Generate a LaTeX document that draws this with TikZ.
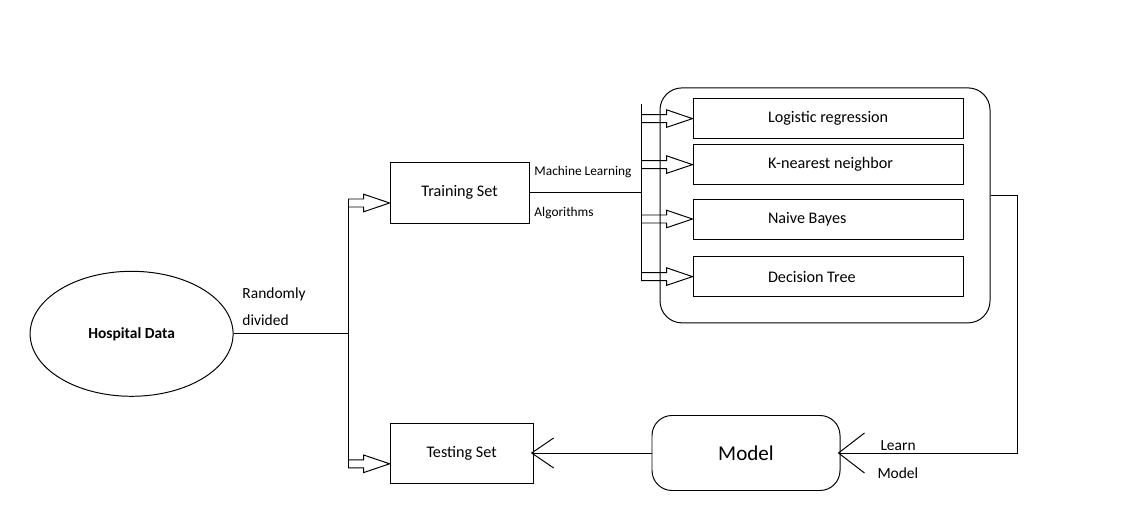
\documentclass[tikz,border=0pt]{standalone}
\usepackage{fontspec}
\setmainfont{Carlito}
\usetikzlibrary{shapes.geometric,arrows.meta,calc,positioning}
\tikzstyle{every picture}=[line width=0.7pt,%
	>={Straight Barb[length=0.55cm,width=0.75cm]}]
\tikzstyle{block}=[draw, minimum width=3.5cm, minimum height=1.5cm, font=\fontsize{11.5}{14}\selectfont]
\tikzstyle{algo}=[draw, minimum height=1cm, text width=6.55cm, inner xsep=0.1cm, align=flush left,%
	font=\fontsize{11.5}{14}\selectfont, execute at begin node={\hspace*{1.775cm}}]
\tikzstyle{lbl}=[inner sep=0pt, anchor=west, align=left, font=\fontsize{11}{19}\selectfont]
\tikzstyle{mllbl}=[lbl, font=\fontsize{9.5}{12}\selectfont]
\tikzstyle{hollow}=[to path={let \p1=(\tikztostart), \p2=(\tikztotarget) in
	(\x1,\y2+0.1cm) -- (\x2-0.65cm,\y2+0.1cm) -- (\x2-0.65cm,\y2+0.22cm) -- (\x2,\y2)
	-- (\x2-0.65cm,\y2-0.22cm) -- (\x2-0.65cm,\y2-0.1cm) -- (\x1,\y2-0.1cm)}]

\begin{document}
\begin{tikzpicture}
	\useasboundingbox (0,0) rectangle (28.575,12.875);
	\node[ellipse, draw, minimum width=5.075cm, minimum height=3.125cm,%
		font=\bfseries\fontsize{11}{13}\selectfont] (data) at (3.29,4.53) {Hospital Data};
	\node[block, minimum width=3.475cm, minimum height=1.525cm] (train) at (11.49,8.06) {Training Set};
	\node[block, minimum width=3.575cm] (test) at (11.54,1.55) {Testing Set};
	\node[draw, rounded corners=0.5cm, minimum width=4.7cm, minimum height=1.875cm,%
		font=\fontsize{15}{18}\selectfont] (model) at (18.65,1.55) {Model};
	\node[draw, rounded corners=0.55cm, minimum width=8.25cm, minimum height=5.875cm] (algos) at (20.625,7.74) {};
	\node[algo] (lr) at (20.7,9.91) {Logistic regression};
	\node[algo] (knn) at (20.7,8.76) {K-nearest neighbor};
	\node[algo] (nb) at (20.7,7.4) {Naive Bayes};
	\node[algo] (dt) at (20.7,5.96) {Decision Tree};
	% split points
	\coordinate (jl) at (8.7,4.63);
	\coordinate (jr) at (16.025,10.275);
	\coordinate (jrb) at (16.025,5.875);
	\coordinate (fb) at (25.425,8.0);
	\coordinate (trainin) at ([yshift=-0.26cm]train.west);
	\coordinate (testin) at ([yshift=-0.27cm]test.west);
	% labels
	\node[lbl] (rd) at (6.05,5.21) {Randomly\\divided};
	\node[mllbl] (ml) at (13.35,8.575) {Machine Learning};
	\node[mllbl] (alg) at (13.35,7.55) {Algorithms};
	\node[lbl] (lrn) at (22.0,1.725) {Learn};
	\node[lbl] (mdl) at (21.925,1.05) {Model};
	% connectors
	\draw (data.east) -- (data.east -| jl);
	\draw ($(trainin -| jl)+(0,0.1)$) -- ($(testin -| jl)+(0,-0.1)$);
	\draw[hollow] (trainin -| jl) to (trainin);
	\draw[hollow] (testin -| jl) to (testin);
	\draw (train.east) -- (train.east -| jr);
	\draw (jr) -- (jrb);
	\foreach \b in {lr,knn,nb,dt}
		\draw[hollow] (\b.west -| jr) to (\b.west);
	\draw[-{Straight Barb[length=0.65cm,width=1cm]}, shorten >=-2pt] (algos.east |- fb) -- (fb) |- (model.east);
	\draw[->, shorten >=-2pt] (model.west) -- (test.east);
\end{tikzpicture}
\end{document}
